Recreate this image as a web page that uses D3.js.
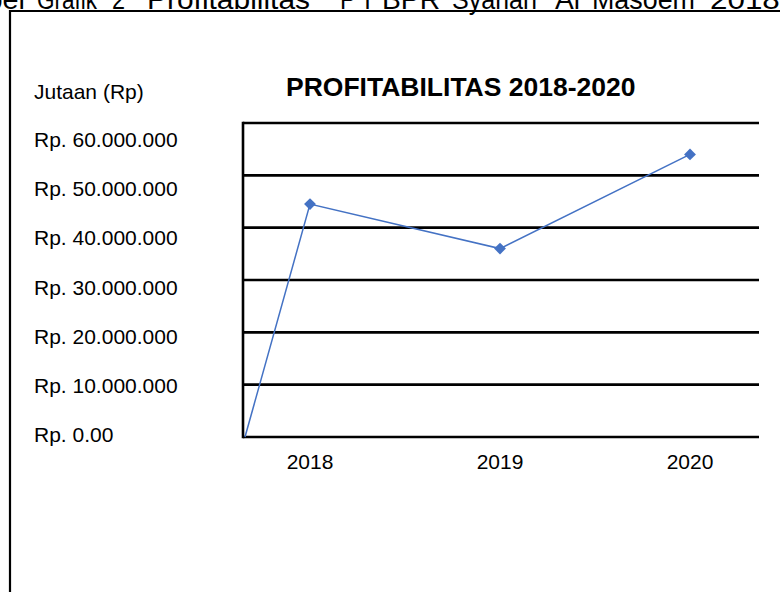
<!DOCTYPE html>
<html><head><meta charset="utf-8">
<script src="https://cdn.jsdelivr.net/npm/d3@7"></script>
<style>html,body{margin:0;padding:0;background:#fff;overflow:hidden}svg{display:block}text{font-family:"Liberation Sans",Arial,sans-serif}</style>
</head><body>
<script>
const years = ["2018", "2019", "2020"];
const profit = [44500000, 36000000, 54000000];
const tickValues = [0, 10000000, 20000000, 30000000, 40000000, 50000000, 60000000];
const tickLabels = ["Rp. 0.00", "Rp. 10.000.000", "Rp. 20.000.000", "Rp. 30.000.000", "Rp. 40.000.000", "Rp. 50.000.000", "Rp. 60.000.000"];
const chartTitle = "PROFITABILITAS 2018-2020";
const unitLabel = "Jutaan (Rp)";
const captionWords = ["Tabel", "Grafik", "2", "Profitabilitas", "P", "T", "BPR", "Syariah", "Al", "Masoem", "2018-2020"];
const captionX = [-44, 37, 112, 147, 340, 360, 382, 452, 555, 592, 710];
const captionLen = [69, 60, 13, 163, 16, 15, 58, 85, 25, 103, 150];

const W = 780, H = 592;
const svg = d3.select("body").append("svg").attr("width", W).attr("height", H);
svg.append("rect").attr("width", W).attr("height", H).attr("fill", "#fff");

// caption (cut at top edge)
svg.append("g").selectAll("text").data(captionWords).join("text")
  .attr("x", (d, i) => captionX[i]).attr("y", 9)
  .attr("font-size", 28).attr("fill", "#000")
  .attr("textLength", (d, i) => captionLen[i]).attr("lengthAdjust", "spacingAndGlyphs")
  .text(d => d);

// outer frame
svg.append("path").attr("d", "M10,600 L10,11 L790,11").attr("fill", "none").attr("stroke", "#000").attr("stroke-width", 2.2);

const left = 243, right = 759;
const y = d3.scaleLinear().domain([0, 60000000]).range([437, 123]);
const yLab = d3.scaleLinear().domain([0, 60000000]).range([442, 147]);
const x = d3.scalePoint().domain(years).range([310, 690]);

// gridlines
svg.append("g").selectAll("line").data(tickValues).join("line")
  .attr("x1", left).attr("x2", right)
  .attr("y1", d => y(d)).attr("y2", d => y(d))
  .attr("stroke", "#000").attr("stroke-width", 2.6);
// left axis
svg.append("line").attr("x1", left).attr("x2", left).attr("y1", y(60000000) - 1.3).attr("y2", y(0) + 1.3)
  .attr("stroke", "#000").attr("stroke-width", 2.6);

// y tick labels
svg.append("g").selectAll("text").data(tickValues).join("text")
  .attr("x", 34).attr("y", d => yLab(d)).attr("font-size", 21).attr("fill", "#000")
  .text((d, i) => tickLabels[i]);

// unit label & title
svg.append("text").attr("x", 34).attr("y", 99).attr("font-size", 21).attr("fill", "#000").text(unitLabel);
svg.append("text").attr("x", 286).attr("y", 96).attr("font-size", 26.5).attr("font-weight", "bold").attr("fill", "#000").text(chartTitle);

// x labels
svg.append("g").selectAll("text").data(years).join("text")
  .attr("x", d => x(d)).attr("y", 469).attr("text-anchor", "middle").attr("font-size", 21).attr("fill", "#000")
  .text(d => d);

// line (starting at origin)
const pts = [[left + 2, y(0)]].concat(years.map((yr, i) => [x(yr), y(profit[i])]));
svg.append("path").attr("d", d3.line()(pts)).attr("fill", "none").attr("stroke", "#4472C4").attr("stroke-width", 1.5);

// markers
const diamond = d3.symbol().type(d3.symbolSquare).size(70);
svg.append("g").selectAll("path").data(years).join("path")
  .attr("d", diamond())
  .attr("transform", (d, i) => `translate(${x(d)},${y(profit[i])}) rotate(45)`)
  .attr("fill", "#4472C4");
</script>
</body></html>
